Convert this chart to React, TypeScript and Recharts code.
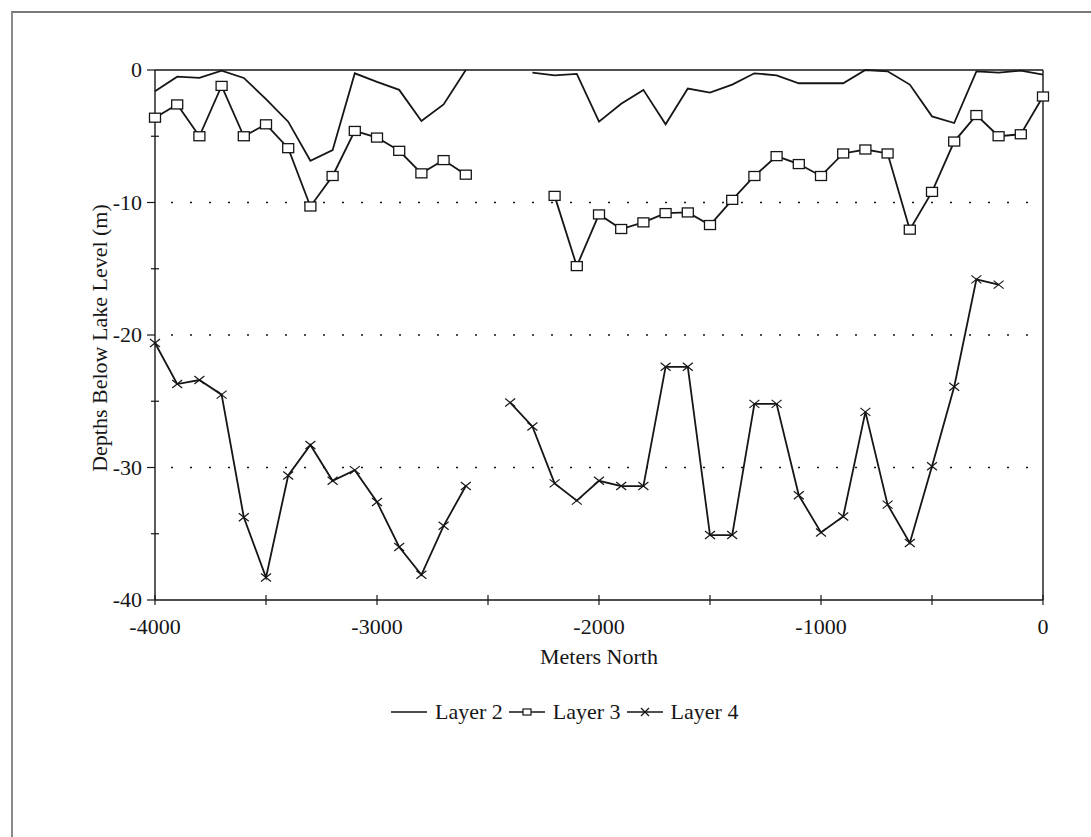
import React from "react"
import { LineChart, Line, XAxis, YAxis, ReferenceLine, Label } from "recharts"

// distance along the section, meters north (negative = south of origin)
const metersNorth = [
  -4000, -3900, -3800, -3700, -3600, -3500, -3400, -3300, -3200, -3100,
  -3000, -2900, -2800, -2700, -2600, -2500, -2400, -2300, -2200, -2100,
  -2000, -1900, -1800, -1700, -1600, -1500, -1400, -1300, -1200, -1100,
  -1000, -900, -800, -700, -600, -500, -400, -300, -200, -100, 0,
]

const layer2 = [
  -1.6, -0.5, -0.6, -0.05, -0.6, -2.2, -3.9, -6.85, -6.05, -0.25,
  -0.9, -1.5, -3.85, -2.6, 0.0, null, null, -0.2, -0.4, -0.3,
  -3.9, -2.55, -1.5, -4.1, -1.4, -1.7, -1.1, -0.25, -0.4, -1.0,
  -1.0, -1.0, 0.0, -0.1, -1.1, -3.5, -4.0, -0.1, -0.2, -0.05, -0.35,
]

const layer3 = [
  -3.6, -2.6, -5.0, -1.2, -5.0, -4.1, -5.9, -10.3, -8.0, -4.6,
  -5.1, -6.1, -7.8, -6.8, -7.9, null, null, null, -9.5, -14.8,
  -10.9, -12.0, -11.5, -10.8, -10.75, -11.7, -9.8, -8.0, -6.5, -7.1,
  -8.0, -6.3, -6.0, -6.3, -12.05, -9.2, -5.4, -3.4, -5.0, -4.85, -2.0,
]

const layer4 = [
  -20.6, -23.7, -23.4, -24.5, -33.75, -38.3, -30.6, -28.3, -31.0, -30.2,
  -32.6, -36.0, -38.1, -34.4, -31.4, null, -25.1, -26.9, -31.2, -32.5,
  -31.0, -31.4, -31.4, -22.4, -22.4, -35.1, -35.1, -25.2, -25.2, -32.1,
  -34.9, -33.7, -25.8, -32.8, -35.7, -29.9, -23.9, -15.8, -16.2, null, null,
]

const xTicks = [-4000, -3500, -3000, -2500, -2000, -1500, -1000, -500, 0]
const yTicks = [0, -5, -10, -15, -20, -25, -30, -35, -40]
const gridDepths = [-10, -20, -30]

const data = metersNorth.map((m, i) => ({
  m,
  layer2: layer2[i],
  layer3: layer3[i],
  layer4: layer4[i],
}))

const INK = "#161616"
const FONT = "'Liberation Serif', 'Times New Roman', serif"
const FS = 22

function SquareDot(props: any) {
  const { cx, cy, value } = props
  if (value == null || cx == null || cy == null) return <g />
  return (
    <rect x={cx - 5.5} y={cy - 4.5} width={11} height={9} fill="#fff" stroke={INK} strokeWidth={1.3} />
  )
}

function CrossDot(props: any) {
  const { cx, cy, value } = props
  if (value == null || cx == null || cy == null) return <g />
  return (
    <g stroke={INK} strokeWidth={1.2}>
      <line x1={cx - 5} y1={cy - 4} x2={cx + 5} y2={cy + 4} />
      <line x1={cx - 5} y1={cy + 4} x2={cx + 5} y2={cy - 4} />
    </g>
  )
}

function XTick(props: any) {
  const { x, y, payload } = props
  const v = payload.value
  return (
    <g>
      <line x1={x} x2={x} y1={y - 5} y2={y + 5} stroke={INK} strokeWidth={1.2} />
      {v % 1000 === 0 && (
        <text x={x} y={y + 34} textAnchor="middle" fontFamily={FONT} fontSize={FS} fill={INK}>
          {v}
        </text>
      )}
    </g>
  )
}

function YTick(props: any) {
  const { x, y, payload } = props
  const v = payload.value
  const major = v % 10 === 0
  return (
    <g>
      <line x1={major ? x - 8 : x - 4} x2={major ? x : x + 4} y1={y} y2={y} stroke={INK} strokeWidth={1.2} />
      {major && (
        <text x={x - 13} y={y + 7} textAnchor="end" fontFamily={FONT} fontSize={FS} fill={INK}>
          {v}
        </text>
      )}
    </g>
  )
}

function LegendIcon({ kind }: { kind: string }) {
  return (
    <svg width={36} height={14} style={{ display: "block" }}>
      <line x1={0} x2={36} y1={7} y2={7} stroke={INK} strokeWidth={1.5} />
      {kind === "square" && <rect x={14} y={4} width={8} height={6} fill="#fff" stroke={INK} strokeWidth={1.2} />}
      {kind === "cross" && (
        <g stroke={INK} strokeWidth={1.2}>
          <line x1={14} y1={3} x2={22} y2={11} />
          <line x1={14} y1={11} x2={22} y2={3} />
        </g>
      )}
    </svg>
  )
}

const legendItems = [
  { name: "Layer 2", kind: "line" },
  { name: "Layer 3", kind: "square" },
  { name: "Layer 4", kind: "cross" },
]

export default function App() {
  return (
    <div style={{ position: "absolute", left: 0, top: 0, width: 1091, height: 837, overflow: "hidden", background: "#fff" }}>
      <div
        style={{
          position: "absolute",
          left: 11,
          top: 11,
          width: 1200,
          height: 900,
          borderTop: "2px solid #7a7a7a",
          borderLeft: "2px solid #8a8a8a",
        }}
      />
      <div style={{ position: "absolute", left: 0, top: 0 }}>
        <LineChart width={1091} height={837} data={data} margin={{ top: 70, right: 48, bottom: 177, left: 95 }}>
          {gridDepths.map((d) => (
            <ReferenceLine key={d} y={d} stroke={INK} strokeWidth={1.7} strokeDasharray="2 17" strokeDashoffset={-16} />
          ))}
          <ReferenceLine y={0} stroke={INK} strokeWidth={1.4} />
          <ReferenceLine x={0} stroke={INK} strokeWidth={1.4} />
          <XAxis
            dataKey="m"
            type="number"
            domain={[-4000, 0]}
            ticks={xTicks}
            interval={0}
            height={60}
            tickSize={0}
            tickMargin={0}
            tickLine={false}
            axisLine={{ stroke: INK, strokeWidth: 1.4 }}
            tick={<XTick />}
          >
            <Label
              content={(p: any) => {
                const vb = p.viewBox
                return (
                  <text x={vb.x + vb.width / 2} y={vb.y + 64} textAnchor="middle" fontFamily={FONT} fontSize={FS} fill={INK}>
                    Meters North
                  </text>
                )
              }}
            />
          </XAxis>
          <YAxis
            type="number"
            domain={[-40, 0]}
            ticks={yTicks}
            interval={0}
            width={60}
            tickSize={0}
            tickMargin={0}
            tickLine={false}
            axisLine={{ stroke: INK, strokeWidth: 1.4 }}
            tick={<YTick />}
          >
            <Label
              content={(p: any) => {
                const vb = p.viewBox
                const cx = vb.x + 4
                const cy = vb.y + vb.height / 2 + 3
                return (
                  <text
                    x={cx}
                    y={cy}
                    transform={`rotate(-90 ${cx} ${cy})`}
                    textAnchor="middle"
                    dominantBaseline="central"
                    fontFamily={FONT}
                    fontSize={FS}
                    fill={INK}
                  >
                    Depths Below Lake Level (m)
                  </text>
                )
              }}
            />
          </YAxis>
          <Line dataKey="layer2" stroke={INK} strokeWidth={1.8} dot={false} isAnimationActive={false} connectNulls={false} />
          <Line dataKey="layer3" stroke={INK} strokeWidth={1.8} dot={<SquareDot />} isAnimationActive={false} connectNulls={false} />
          <Line dataKey="layer4" stroke={INK} strokeWidth={1.8} dot={<CrossDot />} isAnimationActive={false} connectNulls={false} />
        </LineChart>
      </div>
      <div
        style={{
          position: "absolute",
          left: 391,
          top: 699,
          display: "flex",
          alignItems: "center",
          fontFamily: FONT,
          fontSize: FS,
          color: INK,
          whiteSpace: "nowrap",
        }}
      >
        {legendItems.map((it) => (
          <div key={it.name} style={{ display: "flex", alignItems: "center", marginRight: 6 }}>
            <LegendIcon kind={it.kind} />
            <span style={{ marginLeft: 8 }}>{it.name}</span>
          </div>
        ))}
      </div>
    </div>
  )
}
